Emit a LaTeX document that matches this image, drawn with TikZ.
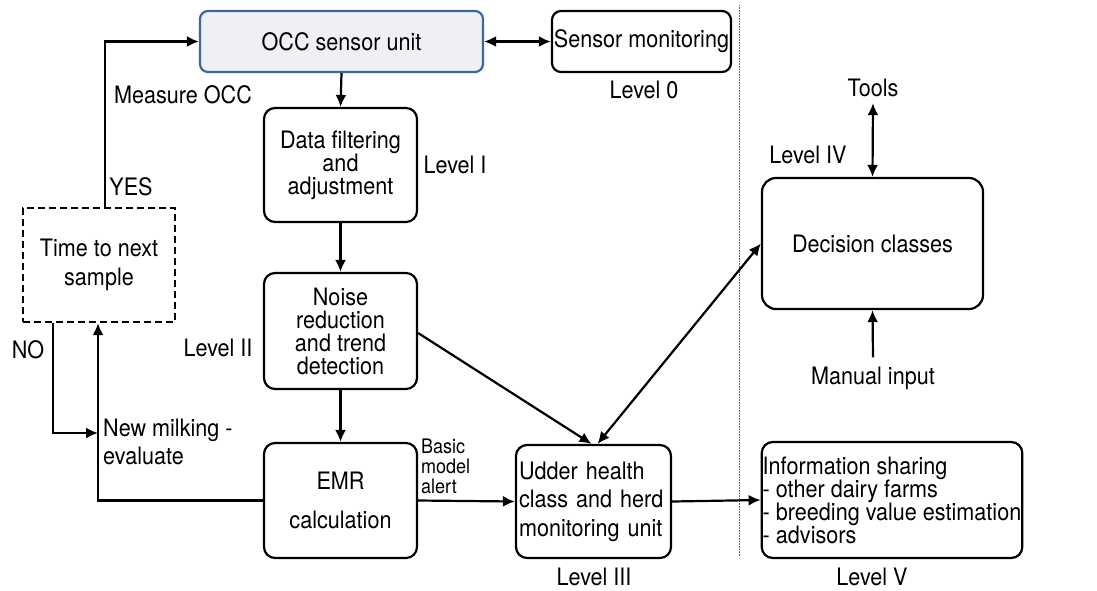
\documentclass[tikz,border=0pt]{standalone}
\usepackage{fontspec}
\setmainfont[FakeStretch=0.9]{TeX Gyre Heros}
\usetikzlibrary{arrows.meta,calc}
\definecolor{occfill}{HTML}{EEF0F4}
\definecolor{occdraw}{HTML}{3E66A3}
\begin{document}
\begin{tikzpicture}[x=1pt,y=-1pt,
  font=\fontsize{24}{23}\selectfont,
  every node/.style={inner sep=2pt},
  box/.style={draw, line width=2.2pt, rounded corners=11pt, align=center, inner sep=2pt},
  dbox/.style={draw, line width=2.2pt, dash pattern=on 7pt off 4pt, align=center},
  tip/.tip={Latex[length=12pt,width=11pt]},
  conn/.style={line width=2.2pt, -tip},
  dconn/.style={line width=2.2pt, tip-tip},
  lbl/.style={inner sep=0pt}
]
\useasboundingbox (0,0) rectangle (1097,590);

% nodes
\node[box, draw=occdraw, fill=occfill, rounded corners=8pt, minimum width=283, minimum height=61] (occ) at (341.5,41.5) {OCC sensor unit};
\node[box, rounded corners=9pt, minimum width=179, minimum height=61] (sens) at (641.5,41.5) {Sensor monitoring};
\node[box, minimum width=153, minimum height=114] (filt) at (340.5,165) {Data filtering\\and\\adjustment};
\node[box, minimum width=153, minimum height=116] (noise) at (340.5,331) {Noise\\reduction\\and trend\\detection};
\node[box, minimum width=153, minimum height=115] (emr) at (340.5,500.5) {EMR\\[16pt]calculation};
\node[box, text width=149, align=left, inner sep=3pt, minimum height=113, font=\fontsize{24}{28.5}\selectfont] (udder) at (593.5,501.5) {Udder health\\class and herd\\monitoring unit};
\node[box, align=left, inner sep=1pt, minimum width=260, minimum height=116] (info) at (892,500) {Information sharing\\- other dairy farms\\- breeding value estimation\\- advisors};
\node[box, rounded corners=14pt, minimum width=221, minimum height=131] (dec) at (872.5,243.5) {Decision classes};
\node[dbox, minimum width=152, minimum height=114, font=\fontsize{24}{29}\selectfont] (time) at (99,265) {Time to next\\sample};

% labels
\node[lbl] (l0) at (644,90) {Level 0};
\node[lbl] (l1) at (455,165) {Level I};
\node[lbl] (l2) at (218,348) {Level II};
\node[lbl] (l3) at (594,577) {Level III};
\node[lbl] (l4) at (808,155) {Level IV};
\node[lbl] (l5) at (872,577) {Level V};
\node[lbl] (tools) at (873,88) {Tools};
\node[lbl] (manual) at (873,378) {Manual input};
\node[lbl] (meas) at (183,95) {Measure OCC};
\node[lbl] (yes) at (131,187) {YES};
\node[lbl] (no) at (28,350) {NO};
\node[lbl, anchor=west, align=left, font=\fontsize{24}{28}\selectfont] (newm) at (103,442) {New milking -\\evaluate};
\node[lbl, anchor=west, align=left, font=\fontsize{20}{20}\selectfont] (basic) at (421,466) {Basic\\model\\alert};

% separator
\coordinate (septop) at (739,5);
\coordinate (sepbot) at (739,557);
\draw[gray!70!black, line width=0.6pt, densely dotted] (septop) -- (sepbot);

% connectors
\draw[dconn] (occ.east) -- (sens.west);
\draw[conn] (occ.south) -- (filt.north);
\draw[conn] (filt.south) -- (noise.north);
\draw[conn] (noise.south) -- (emr.north);
\draw[conn] (emr.east) -- (udder.west);
\draw[conn] (udder.east) -- (info.west);
\coordinate (noiseout) at ($(noise.east)+(0,2)$);
\coordinate (uddin1) at ($(udder.north)+(-2,0)$);
\coordinate (uddin2) at ($(udder.north)+(4,0)$);
\draw[conn] (noiseout) -- (uddin1);
\draw[dconn] (uddin2) -- (dec.west);
\draw[dconn] ($(tools.south)+(0,6)$) -- (dec.north);
\draw[conn] ($(manual.north)+(0,-9)$) -- (dec.south);
\draw[conn] ($(time.north)+(6,0)$) |- (occ.west);
\coordinate (nmj) at (98,433);
\draw[conn] ($(time.south)+(-46,0)$) |- (nmj);
\draw[conn] (emr.west) -| ($(time.south)+(-1,0)$);
\end{tikzpicture}
\end{document}
